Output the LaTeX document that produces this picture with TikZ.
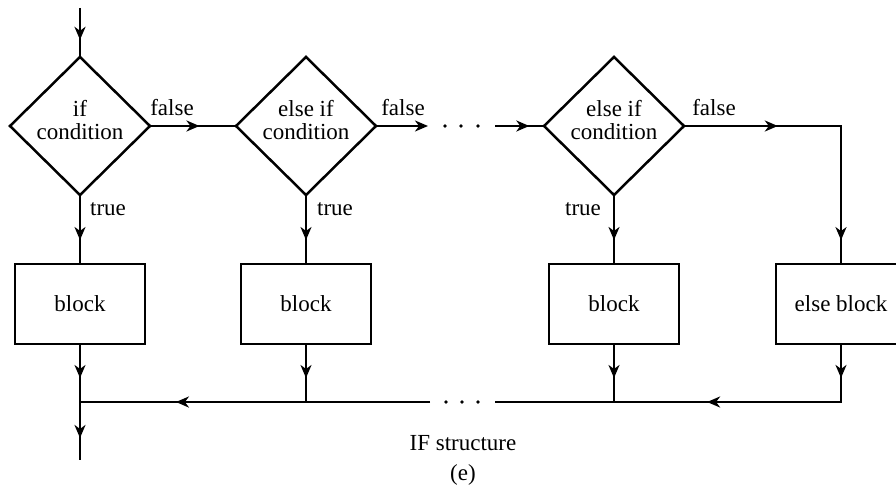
\documentclass[tikz,border=0pt]{standalone}
\usepackage{fontspec}
\setmainfont{Liberation Serif}
\usetikzlibrary{shapes.geometric,arrows.meta,decorations.markings}
\begin{document}
\begin{tikzpicture}[x=1pt,y=-1pt,
  every node/.style={font=\fontsize{23}{23}\selectfont},
  >={Stealth[length=13pt,width=11pt,inset=4pt]},
  line/.style={line width=2.5pt},
  cond/.style={draw,line width=2.5pt,diamond,aspect=1,minimum width=140pt,minimum height=138pt,inner sep=0pt,outer sep=0pt},
  blk/.style={draw,line width=2.5pt,rectangle,minimum width=130pt,minimum height=80pt,inner sep=0pt,outer sep=0pt},
  am/.style={postaction={decorate},decoration={markings,mark=at position #1 with {\arrow{>}}}},
  amm/.style 2 args={postaction={decorate},decoration={markings,mark=at position #1 with {\arrow{>}},mark=at position #2 with {\arrow{>}}}},
  lbl/.style={inner sep=0pt},
]
\useasboundingbox (0,0) rectangle (896,489);

% decisions
\node[cond] (d1) at (80,126) {};
\node[cond] (d2) at (306,126) {};
\node[cond] (d3) at (614,126) {};
\node[lbl,align=center] (t1) at (80,120) {if\\condition};
\node[lbl,align=center] (t2) at (306,120) {else if\\condition};
\node[lbl,align=center] (t3) at (614,120) {else if\\condition};

% blocks
\node[blk] (b1) at (80,304) {block};
\node[blk] (b2) at (306,304) {block};
\node[blk] (b3) at (614,304) {block};
\node[blk] (b4) at (841,304) {else block};

% coordinates
\coordinate (start) at (80,8);
\coordinate (dotsA) at (428,126);
\coordinate (dotsB) at (495,126);
\coordinate (c4) at (841,126);
\coordinate (j4) at (841,402);
\coordinate (j3) at (614,402);
\coordinate (j2) at (306,402);
\coordinate (j1) at (80,402);
\coordinate (bdA) at (430,402);
\coordinate (bdB) at (495,402);
\coordinate (end) at (80,460);

% connectors
\draw[line,am=0.65] (start) -- (d1.north);
\draw[line,am=0.575] (d1.east) -- (d2.west);
\draw[line,->] (d2.east) -- (dotsA);
\draw[line,am=0.7] (dotsB) -- (d3.west);
\draw[line,amm={0.318}{0.919}] (d3.east) -- (c4) -- (b4.north);
\draw[line,am=0.652] (d1.south) -- (b1.north);
\draw[line,am=0.652] (d2.south) -- (b2.north);
\draw[line,am=0.652] (d3.south) -- (b3.north);
\draw[line,am=0.586] (b1.south) -- (j1);
\draw[line,am=0.586] (b2.south) -- (j2);
\draw[line,am=0.586] (b3.south) -- (j3);
\draw[line,amm={0.084}{0.475}] (b4.south) -- (j4) -- (bdB);
\draw[line,am=0.726] (bdA) -- (j1);
\draw[line,am=0.62] (j1) -- (end);

% dots
\foreach \x in {445,461,478} \fill (\x,126) circle (1.8);
\foreach \x in {446,462,478} \fill (\x,402) circle (1.8);

% labels
\node[lbl] (f1) at (172,108) {false};
\node[lbl] (f2) at (403,108) {false};
\node[lbl] (f3) at (714,108) {false};
\node[lbl] (tr1) at (108,209) {true};
\node[lbl] (tr2) at (335,209) {true};
\node[lbl] (tr3) at (583,209) {true};
\node[lbl] (cap1) at (463,443) {IF structure};
\node[lbl] (cap2) at (463,475) {(e)};
\end{tikzpicture}
\end{document}
